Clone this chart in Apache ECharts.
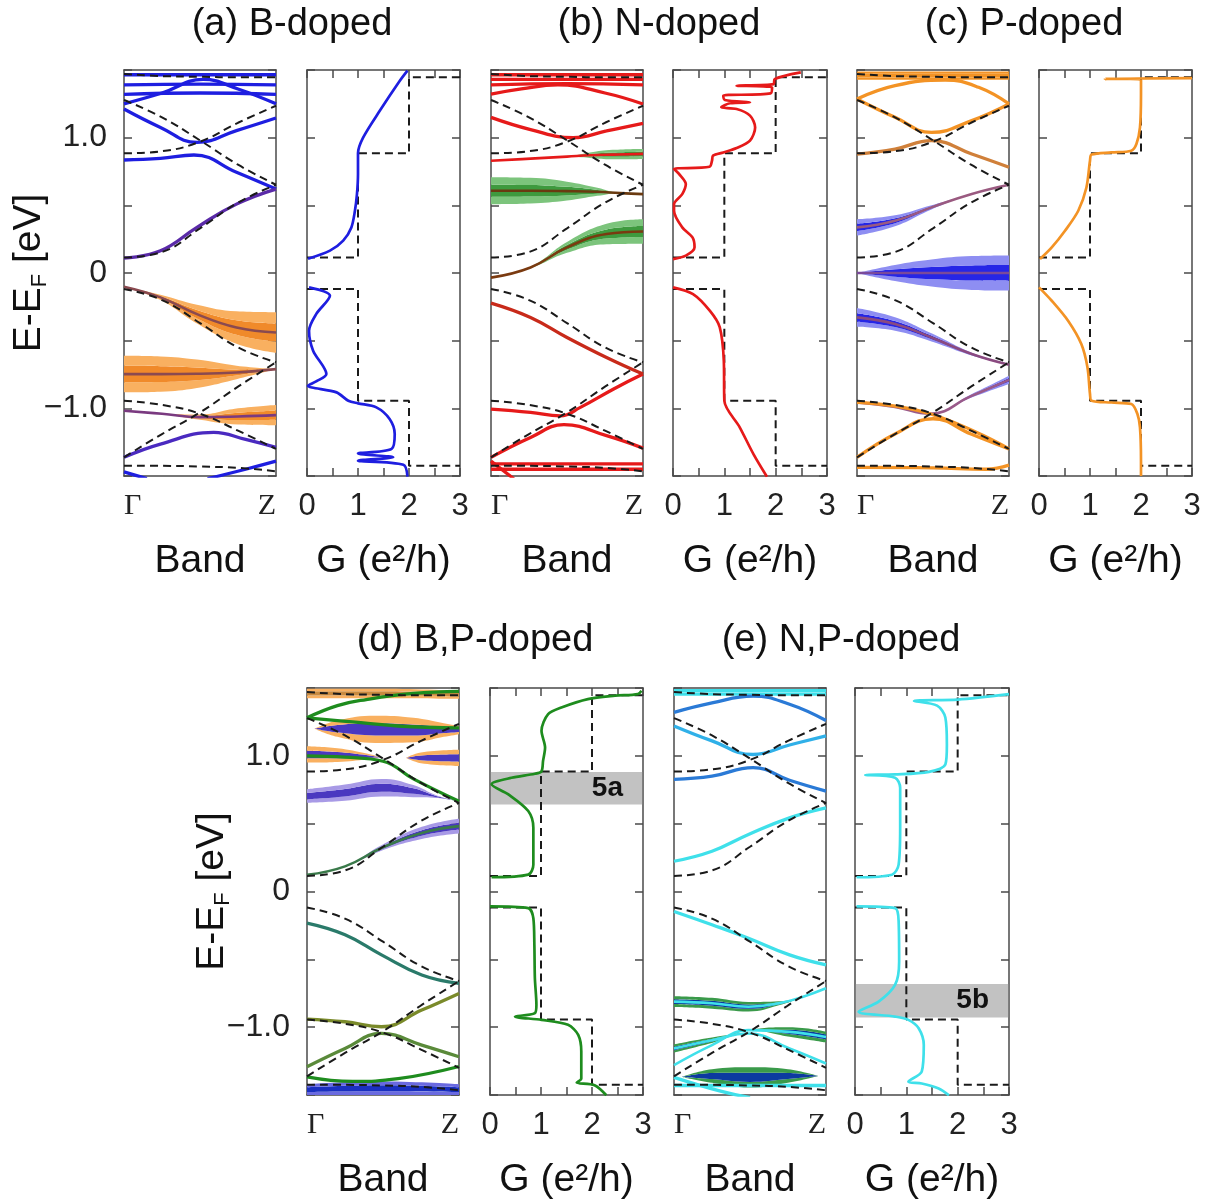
<!DOCTYPE html>
<html>
<head>
<meta charset="utf-8">
<script src="https://cdn.jsdelivr.net/npm/echarts@6/dist/echarts.min.js"></script>
<style>
html, body { margin: 0; padding: 0; background: #fff; }
#main { width: 1213px; height: 1204px; }
</style>
</head>
<body>
<div id="main"></div>
<script>
// pristine ribbon bands (dashed), E at k = 0, .25, .5, .75, 1
var kGrid = [0, 0.25, 0.5, 0.75, 1];
var dashC1 = [0.115, 0.155, 0.33, 0.52, 0.652];
var dashC2 = [0.884, 0.90, 0.97, 1.11, 1.236];
var dashC3 = [1.278, 1.15, 0.98, 0.80, 0.652];
var dashC4 = [1.47, 1.455, 1.45, 1.446, 1.446];
var dashV1 = [-0.118, -0.20, -0.37, -0.55, -0.66];
var dashV2 = [-1.362, -1.19, -1.03, -0.84, -0.66];
var dashV3 = [-0.944, -0.975, -1.04, -1.165, -1.30];
var dashV4 = [-1.424, -1.425, -1.43, -1.44, -1.465];

// pristine conductance steps
var stepG = [0, 1, 1, 2, 2, 3];
var stepCondE = [0.115, 0.115, 0.884, 0.884, 1.446, 1.446];
var stepValE = [-0.118, -0.118, -0.944, -0.944, -1.424, -1.424];

// (a) B-doped : bands [k, E], fat bands [k, E, halfwidth]
var aC1 = [[0, 0.11], [0.24, 0.164], [0.48, 0.337], [0.74, 0.509], [1, 0.62]];
var aC2 = [[0, 0.835], [0.24, 0.847], [0.46, 0.872], [0.74, 0.744], [1, 0.62]];
var aC3 = [[0, 1.212], [0.24, 1.076], [0.48, 0.965], [0.74, 1.052], [1, 1.145]];
var aT1 = [[0, 1.465], [1, 1.465]];
var aT2 = [[0, 1.39], [0.5, 1.395], [1, 1.39]];
var aT3 = [[0, 1.32], [0.5, 1.33], [1, 1.32]];
var aT4 = [[0, 1.25], [0.25, 1.33], [0.52, 1.43], [0.75, 1.36], [1, 1.25]];
var aV1 = [[0, -0.101, 0], [0.24, -0.18, 0.02], [0.48, -0.304, 0.07], [0.74, -0.403, 0.12], [1, -0.44, 0.15]];
var aV2 = [[0, -0.747, 0.135], [0.24, -0.747, 0.13], [0.48, -0.745, 0.105], [0.74, -0.735, 0.05], [1, -0.71, 0]];
var aV3 = [[0, -1.018, 0], [0.25, -1.04, 0], [0.5, -1.065, 0.02], [0.75, -1.06, 0.06], [1, -1.05, 0.075]];
var aV4 = [[0, -1.362], [0.24, -1.264], [0.59, -1.178], [0.8, -1.23], [1, -1.289]];
var aB1 = [[0.55, -1.52], [0.8, -1.45], [1, -1.39]];
var aB2 = [[0, -1.47], [0.15, -1.52]];
var aGCond = [[0.02, 0.105], [0.45, 0.165], [0.71, 0.239], [0.87, 0.337], [0.94, 0.46], [0.98, 0.584], [1.0, 0.73], [1.0, 0.884], [1.1, 1.0], [1.43, 1.2], [1.82, 1.42], [1.97, 1.495]];
var aGVal = [[0.04, -0.106], [0.45, -0.168], [0.18, -0.304], [0.04, -0.427], [0.12, -0.574], [0.38, -0.747], [0.18, -0.801], [0.02, -0.833], [0.58, -0.882], [0.81, -0.944], [1.0, -0.963], [1.36, -0.993], [1.62, -1.079], [1.72, -1.19], [1.66, -1.3], [1.0, -1.333], [1.69, -1.362], [1.0, -1.387], [1.89, -1.417], [1.97, -1.505]];

// (b) N-doped
var bT1 = [[0, 1.465], [1, 1.465]];
var bT2 = [[0, 1.43], [1, 1.43]];
var bT3 = [[0, 1.39], [0.5, 1.40], [1, 1.39]];
var bT4 = [[0, 1.322], [0.2, 1.36], [0.44, 1.39], [0.75, 1.33], [1, 1.249]];
var bC3 = [[0, 1.15], [0.26, 1.06], [0.54, 1.0], [0.76, 1.05], [1, 1.106]];
var bC2 = [[0, 0.83, 0], [0.26, 0.845, 0], [0.5, 0.86, 0], [0.65, 0.87, 0.02], [0.8, 0.875, 0.035], [1, 0.88, 0.037]];
var bFlat = [[0, 0.608, 0.1], [0.26, 0.608, 0.095], [0.5, 0.605, 0.07], [0.7, 0.6, 0.03], [0.85, 0.59, 0], [1, 0.583, 0]];
var bC1 = [[0, -0.034, 0], [0.26, 0.041, 0.005], [0.5, 0.189, 0.04], [0.76, 0.288, 0.075], [1, 0.307, 0.09]];
var bV1 = [[0, -0.222], [0.26, -0.328], [0.5, -0.476], [0.76, -0.624], [1, -0.747]];
var bV2 = [[0, -1.006], [0.26, -1.03], [0.456, -1.055], [0.588, -0.993], [0.807, -0.857], [1, -0.747]];
var bV3 = [[0, -1.362], [0.26, -1.215], [0.48, -1.121], [0.76, -1.202], [1, -1.294]];
var bB1 = [[0, -1.41], [1, -1.41]];
var bB2 = [[0, -1.45], [1, -1.45]];
var bB3 = [[0, -1.39], [0.15, -1.52]];
var bGCond = [[0, 0.103], [0.25, 0.128], [0.42, 0.19], [0.38, 0.263], [0.18, 0.337], [0.02, 0.46], [0.02, 0.509], [0.18, 0.583], [0.25, 0.657], [0.12, 0.731], [0.02, 0.768], [0.71, 0.785], [0.76, 0.83], [0.78, 0.867], [0.98, 0.891], [1.24, 0.923], [1.5, 0.978], [1.6, 1.076], [1.5, 1.163], [1.24, 1.212], [0.94, 1.224], [1.11, 1.254], [1.5, 1.261], [1.01, 1.278], [0.98, 1.31], [1.9, 1.327], [1.93, 1.372], [1.24, 1.384], [1.96, 1.396], [1.98, 1.433], [2.49, 1.483]];
var bGVal = [[0, -0.106], [0.39, -0.156], [0.72, -0.28], [0.91, -0.4], [0.99, -0.65], [1.0, -0.944], [1.3, -1.14], [1.57, -1.34], [1.83, -1.505]];

// (c) P-doped
var cTop = [[0, 1.458, 0.03], [0.5, 1.458, 0.03], [1, 1.458, 0.03]];
var cLensU = [[0, 1.286], [0.25, 1.385], [0.58, 1.426], [0.8, 1.372], [1, 1.249]];
var cLensL = [[0, 1.286], [0.25, 1.15], [0.49, 1.039], [0.755, 1.126], [1, 1.249]];
var cC2 = [[0, 0.879], [0.25, 0.916], [0.49, 0.978], [0.755, 0.879], [1, 0.781]];
var cC1 = [[0, 0.337, 0.06], [0.25, 0.386, 0.04], [0.49, 0.485, 0.015], [0.755, 0.584, 0], [1, 0.652, 0]];
var cMid = [[0, 0, 0], [0.25, 0, 0.06], [0.49, 0, 0.10], [0.755, 0, 0.125], [1, 0, 0.13]];
var cV1 = [[0, -0.328, 0.07], [0.25, -0.377, 0.05], [0.49, -0.476, 0.03], [0.755, -0.599, 0.01], [1, -0.678, 0]];
var cV2 = [[0, -0.956, 0], [0.25, -0.99, 0], [0.48, -1.04, 0], [0.75, -0.91, 0.012], [1, -0.79, 0.03]];
var cV3 = [[0, -1.363], [0.25, -1.19], [0.5, -1.077], [0.75, -1.19], [1, -1.3]];
var cV4 = [[0, -0.956], [0.48, -1.04], [1, -1.3]];
var cB1 = [[0, -1.437], [0.5, -1.44], [0.85, -1.45], [1, -1.42]];
var cGCond = [[0.02, 0.103], [0.25, 0.189], [0.51, 0.312], [0.77, 0.46], [0.93, 0.632], [1.0, 0.83], [1.03, 0.875], [1.42, 0.891], [1.81, 0.904], [1.91, 0.953], [1.98, 1.076], [2.0, 1.32], [2.0, 1.43], [1.29, 1.435], [3.0, 1.44]];
var cGVal = [[0, -0.106], [0.25, -0.205], [0.57, -0.353], [0.83, -0.525], [0.95, -0.697], [1.0, -0.894], [1.03, -0.944], [1.42, -0.957], [1.81, -0.968], [1.93, -1.042], [1.98, -1.141], [2.0, -1.387], [2.0, -1.5]];

// (d) B,P-doped
var dTop = [[0, 1.46, 0.035], [0.5, 1.46, 0.035], [1, 1.45, 0.03]];
var dT1 = [[0, 1.28], [0.2, 1.37], [0.39, 1.415], [0.7, 1.46], [1, 1.475]];
var dT2 = [[0, 1.28], [0.3, 1.25], [0.6, 1.22], [1, 1.206]];
var dLens = [[0.05, 1.2, 0], [0.2, 1.2, 0.06], [0.45, 1.195, 0.1], [0.7, 1.19, 0.09], [0.9, 1.19, 0.05], [1, 1.19, 0.03]];
var dFatL = [[0, 1.01, 0.06], [0.2, 1.005, 0.05], [0.4, 0.995, 0.02], [0.48, 0.99, 0]];
var dFatR = [[0.65, 0.985, 0], [0.75, 0.985, 0.04], [1, 0.985, 0.06]];
var dMid = [[0, 1.0], [0.25, 0.99], [0.5, 0.96], [0.7, 0.83], [1, 0.665]];
var dFat3 = [[0, 0.703, 0.05], [0.25, 0.728, 0.06], [0.49, 0.765, 0.065], [0.7, 0.74, 0.045], [0.85, 0.7, 0.01], [1, 0.665, 0]];
var dC1 = [[0, 0.123, 0], [0.25, 0.185, 0], [0.49, 0.321, 0.02], [0.755, 0.432, 0.045], [1, 0.482, 0.055]];
var dV1 = [[0, -0.233], [0.25, -0.319], [0.49, -0.467], [0.755, -0.615], [1, -0.677]];
var dV2 = [[0, -0.94], [0.25, -0.96], [0.49, -0.997], [0.755, -0.874], [1, -0.751]];
var dV3 = [[0, -1.292], [0.25, -1.157], [0.49, -1.046], [0.755, -1.132], [1, -1.218]];
var dV4 = [[0, -1.366], [0.3, -1.40], [0.6, -1.38], [1, -1.29]];
var dBot = [[0, -1.46, 0.04], [0.5, -1.45, 0.05], [1, -1.46, 0.04]];
var dGCond = [[0.03, 0.105], [0.75, 0.124], [0.85, 0.198], [0.85, 0.469], [0.75, 0.593], [0.36, 0.716], [0.03, 0.79], [0.42, 0.838], [0.88, 0.868], [1.01, 0.887], [1.04, 0.962], [1.08, 1.061], [1.01, 1.184], [1.14, 1.307], [1.4, 1.356], [1.92, 1.418], [2.45, 1.443], [2.9, 1.455], [2.97, 1.48]];
var dGVal = [[0, -0.11], [0.75, -0.123], [0.85, -0.197], [0.87, -0.394], [0.88, -0.64], [0.91, -0.835], [0.88, -0.897], [0.49, -0.922], [1.01, -0.946], [1.53, -0.983], [1.73, -1.057], [1.79, -1.18], [1.79, -1.378], [1.7, -1.408], [2.05, -1.428], [2.28, -1.502]];

// (e) N,P-doped
var eT1 = [[0, 1.48], [1, 1.48]];
var eT2 = [[0, 1.455], [1, 1.455]];
var eT3 = [[0, 1.32], [0.25, 1.39], [0.52, 1.44], [0.76, 1.38], [1, 1.26]];
var eC3 = [[0, 1.22], [0.25, 1.11], [0.52, 1.01], [0.76, 1.08], [1, 1.147]];
var eC2 = [[0, 0.827], [0.25, 0.85], [0.52, 0.913], [0.76, 0.82], [1, 0.74]];
var eC1 = [[0, 0.223], [0.25, 0.297], [0.49, 0.42], [0.76, 0.543], [1, 0.617]];
var eV1 = [[0, -0.147], [0.25, -0.245], [0.49, -0.344], [0.76, -0.467], [1, -0.541]];
var eFat1 = [[0, -0.812, 0.04], [0.25, -0.824, 0.04], [0.49, -0.849, 0.035], [0.69, -0.824, 0.015], [0.85, -0.775, 0], [1, -0.713, 0]];
var eFat2 = [[0, -1.28, 0], [0.25, -1.132, 0], [0.49, -1.022, 0], [0.76, -1.035, 0.035], [1, -1.072, 0.04]];
var eFat3 = [[0, -1.157, 0.03], [0.25, -1.096, 0.02], [0.49, -1.047, 0], [0.76, -1.157, 0], [1, -1.268, 0]];
var eLens = [[0.05, -1.367, 0], [0.25, -1.36, 0.05], [0.5, -1.37, 0.075], [0.75, -1.36, 0.05], [0.95, -1.36, 0]];
var eB1 = [[0, -1.43], [1, -1.43]];
var eB2 = [[0, -1.37], [0.3, -1.47], [0.5, -1.52]];
var eGCond = [[0.03, 0.105], [0.72, 0.124], [0.85, 0.198], [0.88, 0.469], [0.88, 0.765], [0.78, 0.839], [0.2, 0.859], [0.78, 0.863], [1.44, 0.882], [1.76, 0.936], [1.79, 1.084], [1.76, 1.282], [1.6, 1.37], [1.15, 1.405], [2.0, 1.415], [3.0, 1.455]];
var eGVal = [[0.03, -0.11], [0.78, -0.123], [0.85, -0.221], [0.86, -0.517], [0.78, -0.689], [0.46, -0.812], [0.07, -0.886], [0.78, -0.922], [1.04, -0.946], [1.24, -1.008], [1.34, -1.131], [1.3, -1.328], [1.04, -1.402], [1.3, -1.415], [1.63, -1.452], [1.83, -1.502]];

// shaded windows
var win5a = [0.642, 0.881];
var win5b = [-0.928, -0.681];

var FONT = 'Liberation Sans, Arial, sans-serif';
var SERIF = 'Liberation Serif, Times New Roman, serif';
var EDGE = '#4a4a4a';

var panels = [
  { left: 124, top: 70, width: 152, height: 406 },
  { left: 307, top: 70, width: 153, height: 406 },
  { left: 491, top: 70, width: 152, height: 406 },
  { left: 673, top: 70, width: 154, height: 406 },
  { left: 857, top: 70, width: 152, height: 406 },
  { left: 1039, top: 70, width: 153, height: 406 },
  { left: 307, top: 688, width: 152, height: 407 },
  { left: 490, top: 688, width: 153, height: 407 },
  { left: 674, top: 688, width: 152, height: 407 },
  { left: 855, top: 688, width: 154, height: 407 }
];

var grids = [], xAxes = [], yAxes = [], series = [];
var tick = { show: true, inside: true, length: 8, lineStyle: { color: EDGE, width: 1.5 } };
var noTick = { show: false };
var edgeLine = { show: true, onZero: false, lineStyle: { color: EDGE, width: 1.5 } };

function yTickText(v) {
  if (v === 1) return '1.0';
  if (v === 0) return '0';
  if (v === -1) return '\u22121.0';
  return '';
}

panels.forEach(function (p, i) {
  var isBand = i % 2 === 0;
  var withY = (i === 0 || i === 6);
  grids.push({ left: p.left, top: p.top, width: p.width, height: p.height, show: false, containLabel: false, outerBoundsMode: 'none' });
  xAxes.push({
    gridIndex: i, type: 'value', position: 'bottom',
    min: 0, max: isBand ? 1 : 3, interval: isBand ? 1 : 0.5,
    axisLine: edgeLine, axisTick: isBand ? noTick : tick, splitLine: { show: false },
    axisLabel: {
      show: true, margin: 15, color: '#222', fontSize: isBand ? 30 : 31,
      fontFamily: isBand ? SERIF : FONT,
      showMinLabel: true, showMaxLabel: true,
      alignMinLabel: isBand ? 'left' : 'center', alignMaxLabel: isBand ? 'right' : 'center',
      formatter: isBand ? function (v) { return v === 0 ? '\u0393' : 'Z'; }
                        : function (v) { return v % 1 === 0 ? String(v) : ''; }
    },
    name: isBand ? 'Band' : 'G (e\u00b2/h)', nameLocation: 'middle', nameGap: 66, nameMoveOverlap: false,
    nameTextStyle: { fontSize: 39, fontFamily: FONT, color: '#111' }
  });
  xAxes.push({
    gridIndex: i, type: 'value', position: 'top',
    min: 0, max: isBand ? 1 : 3, interval: isBand ? 1 : 0.5,
    axisLine: edgeLine, axisTick: isBand ? noTick : tick,
    axisLabel: { show: false }, splitLine: { show: false }
  });
  var yl = {
    gridIndex: i, type: 'value', position: 'left',
    min: -1.5, max: 1.5, interval: 0.5,
    axisLine: edgeLine, axisTick: tick, splitLine: { show: false },
    axisLabel: { show: withY, margin: 17, fontSize: 32, color: '#222', fontFamily: FONT, formatter: yTickText }
  };
  if (withY) {
    yl.name = '{n|E-E}{s|F}{n| [eV]}';
    yl.nameLocation = 'middle';
    yl.nameRotate = 90;
    yl.nameGap = 73;
    yl.nameMoveOverlap = false;
    yl.nameTextStyle = {
      color: '#111',
      rich: {
        n: { fontSize: 39, fontFamily: FONT, color: '#111', lineHeight: 44 },
        s: { fontSize: 22, fontFamily: FONT, color: '#111', lineHeight: 44, verticalAlign: 'bottom' }
      }
    };
  }
  yAxes.push(yl);
  yAxes.push({
    gridIndex: i, type: 'value', position: 'right',
    min: -1.5, max: 1.5, interval: 0.5,
    axisLine: edgeLine, axisTick: tick, axisLabel: { show: false }, splitLine: { show: false }
  });
});

function line(g, pts, color, width, z) {
  return {
    type: 'line', xAxisIndex: 2 * g, yAxisIndex: 2 * g, data: pts,
    symbol: 'none', smooth: 0.45, silent: true, z: z || 4,
    lineStyle: { color: color, width: width || 3.3 }
  };
}

function dashed(g, pts) {
  var s = line(g, pts, '#1a1a1a', 2, 6);
  s.lineStyle.type = [8, 5];
  return s;
}

// fat band: stacked areas (lower edge, light, dark core, light) around the band centre
var fatCount = 0;
function fat(g, pts, outer, inner, center) {
  var id = 'fat' + (fatCount++);
  // value first, k second, so that the stacked dimension is E
  var base = pts.map(function (p) { return [p[1] - p[2], p[0]]; });
  var edge = pts.map(function (p) { return [p[2] * 0.55, p[0]]; });
  var core = pts.map(function (p) { return [p[2] * 0.9, p[0]]; });
  function layer(d, color) {
    var s = {
      type: 'line', xAxisIndex: 2 * g, yAxisIndex: 2 * g, data: d,
      encode: { x: 1, y: 0 },
      stack: id, stackStrategy: 'all', symbol: 'none', smooth: 0.45, silent: true, z: 2,
      lineStyle: { opacity: 0, width: 0 }
    };
    if (color) s.areaStyle = { color: color, opacity: 1 };
    return s;
  }
  var out = [layer(base, null), layer(edge, outer), layer(core, inner), layer(edge, outer)];
  if (center) out.push(line(g, pts.map(function (p) { return [p[0], p[1]]; }), center, 2.6));
  return out;
}

function addPristine(g) {
  [dashC1, dashC2, dashC3, dashC4, dashV1, dashV2, dashV3, dashV4].forEach(function (b) {
    series.push(dashed(g, kGrid.map(function (k, j) { return [k, b[j]]; })));
  });
}

function addSteps(g) {
  var s1 = dashed(g, stepG.map(function (x, j) { return [x, stepCondE[j]]; }));
  var s2 = dashed(g, stepG.map(function (x, j) { return [x, stepValE[j]]; }));
  s1.smooth = false; s2.smooth = false;
  s1.z = 3; s2.z = 3;
  series.push(s1, s2);
}

function gCurve(g, pts, color) {
  var s = line(g, pts, color, 2.7, 8);
  s.smooth = 0.3;
  return s;
}

function windowArea(name, range) {
  return {
    silent: true,
    itemStyle: { color: '#858585', opacity: 0.5 },
    label: { show: true, position: 'insideRight', distance: 20, fontSize: 28, fontWeight: 'bold', color: '#111', fontFamily: FONT },
    data: [[{ name: name, coord: [0, range[0]] }, { coord: [3, range[1]] }]]
  };
}

// ---- (a)
var BLUE = '#1e1ee0', ORG_O = '#f9b060', ORG_I = '#f08a2a';
series = series.concat(fat(0, aV1, ORG_O, ORG_I, '#8a4a50'), fat(0, aV2, ORG_O, ORG_I, '#8a4a50'), fat(0, aV3, ORG_O, ORG_I, '#7a3a80'));
[aC2, aC3, aT1, aT2, aT3, aT4, aB1, aB2].forEach(function (b) { series.push(line(0, b, BLUE)); });
series.push(line(0, aC1, '#5a2aa8'), line(0, aV4, '#4a2ac0'));
addPristine(0);
addSteps(1);
series.push(gCurve(1, aGCond, BLUE), gCurve(1, aGVal, BLUE));

// ---- (b)
var RED = '#e61a1a', GRN_O = '#7cc47c', GRN_I = '#3e9a3e';
series = series.concat(fat(2, bFlat, GRN_O, GRN_I, '#6a3a10'), fat(2, bC1, GRN_O, GRN_I, '#7a3a10'), fat(2, bC2, GRN_O, GRN_I, RED));
[bT1, bT2, bT3, bT4, bC3, bV2, bV3, bB1, bB2, bB3].forEach(function (b) { series.push(line(2, b, RED)); });
series.push(line(2, bV1, '#c82a1a'));
addPristine(2);
addSteps(3);
series.push(gCurve(3, bGCond, RED), gCurve(3, bGVal, RED));

// ---- (c)
var ORG = '#f39325', BLU_O = '#8e8ef2', BLU_I = '#2626e6';
series = series.concat(fat(4, cTop, ORG, ORG, null), fat(4, cC1, BLU_O, BLU_I, '#9a5a80'), fat(4, cMid, BLU_O, BLU_I, '#7a4a9a'),
  fat(4, cV1, BLU_O, BLU_I, '#8a4a80'), fat(4, cV2, BLU_O, BLU_I, '#9a5a8a'));
[cLensU, cLensL, cV3, cV4, cB1].forEach(function (b) { series.push(line(4, b, ORG)); });
series.push(line(4, cC2, '#d0803a'));
addPristine(4);
addSteps(5);
series.push(gCurve(5, cGCond, ORG), gCurve(5, cGVal, ORG));

// ---- (d)
var GRN = '#1e8c1e', PUR_O = '#a89ae6', PUR_I = '#4a38c0';
series = series.concat(fat(6, dTop, ORG_O, '#c88a40', null), fat(6, dLens, ORG_O, PUR_I, null),
  fat(6, dFatL, ORG_O, PUR_I, null), fat(6, dFatR, ORG_O, PUR_I, null), fat(6, dFat3, PUR_O, PUR_I, null),
  fat(6, dC1, PUR_O, PUR_I, '#3a7a4a'), fat(6, dBot, '#6a6ae0', '#1a30c0', null));
[dT1, dT2, dMid, dV4].forEach(function (b) { series.push(line(6, b, GRN)); });
series.push(line(6, dV1, '#2a7a6a'), line(6, dV2, '#7a8a2a'), line(6, dV3, '#5a8a3a'));
addPristine(6);
addSteps(7);
var dCurve = gCurve(7, dGCond, GRN);
dCurve.markArea = windowArea('5a', win5a);
series.push(dCurve, gCurve(7, dGVal, GRN));

// ---- (e)
var CYN = '#3fe0ea', CBL = '#2a7ad6', NVY_O = '#3a9a4a', NVY_I = '#0c3aa0';
series = series.concat(fat(8, eFat1, NVY_O, NVY_I, CYN), fat(8, eFat2, NVY_O, NVY_I, CYN), fat(8, eFat3, NVY_O, NVY_I, CYN), fat(8, eLens, NVY_O, NVY_I, null));
[eT1, eT2, eC1, eV1, eB1, eB2].forEach(function (b) { series.push(line(8, b, CYN)); });
series.push(line(8, eT3, CBL), line(8, eC3, '#30b0e8'), line(8, eC2, CBL));
addPristine(8);
addSteps(9);
var eCurve = gCurve(9, eGVal, CYN);
eCurve.markArea = windowArea('5b', win5b);
series.push(gCurve(9, eGCond, CYN), eCurve);

var titles = [
  ['(a) B-doped', 292, 25], ['(b) N-doped', 659, 25], ['(c) P-doped', 1024, 25],
  ['(d) B,P-doped', 475, 641], ['(e) N,P-doped', 841, 641]
];

var chart = echarts.init(document.getElementById('main'), null, { renderer: 'canvas' });
chart.setOption({
  animation: false,
  backgroundColor: '#ffffff',
  grid: grids,
  xAxis: xAxes,
  yAxis: yAxes,
  series: series,
  graphic: titles.map(function (t) {
    return {
      type: 'text', x: t[1], y: t[2], silent: true,
      style: { text: t[0], fontSize: 38, fontFamily: FONT, fill: '#111', align: 'center', verticalAlign: 'middle' }
    };
  })
});
</script>
</body>
</html>
